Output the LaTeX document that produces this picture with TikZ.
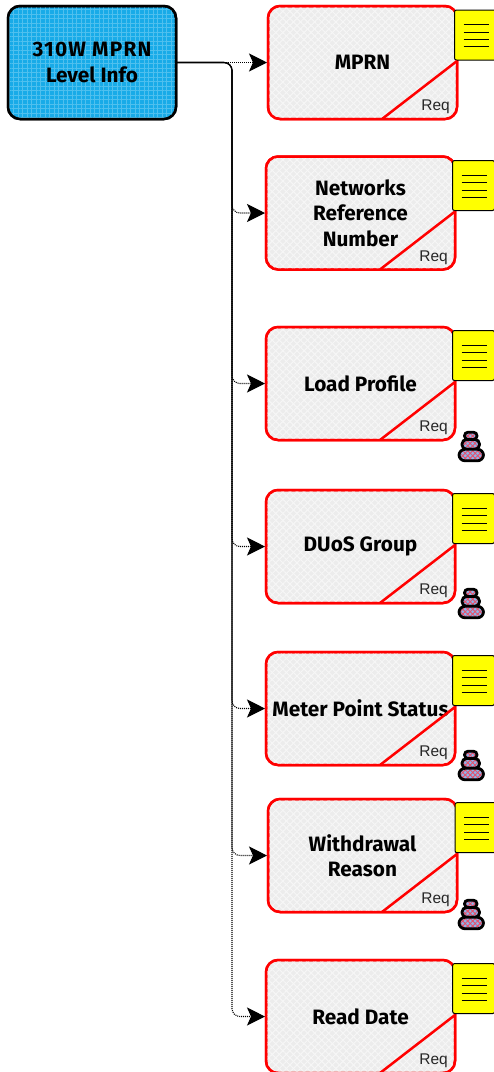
\documentclass[tikz,border=0pt]{standalone}
\usepackage{fontspec}
\setmainfont{Liberation Sans}
\newfontfamily\labelfont{Fira Sans}
\usetikzlibrary{arrows.meta,calc,patterns.meta}
\definecolor{blueface}{HTML}{18ABE8}
\definecolor{bluegrid}{HTML}{4FC0EE}
\definecolor{greyface}{HTML}{ECECEC}
\definecolor{greygrid}{HTML}{F6F6F6}
\definecolor{pillface}{HTML}{8FB4EA}
\definecolor{pillred}{HTML}{E8506A}
\definecolor{noteyellow}{HTML}{FFFF00}
\tikzset{
  x=1pt,y=-1pt,
  labeltext/.style={font=\labelfont\fontsize{20.8}{25.5}\selectfont\bfseries},
  bluebox/.style={draw=black,line width=2.5pt,rounded corners=12pt,outer sep=0pt,inner sep=0pt,
    minimum width=168pt,minimum height=113pt,align=center,labeltext,
    preaction={fill=blueface},
    postaction={pattern={Lines[angle=0,distance=4.5pt,line width=1pt]},pattern color=bluegrid},
    postaction={pattern={Lines[angle=90,distance=4.5pt,line width=1pt]},pattern color=bluegrid},
    postaction={draw=black,line width=2.5pt}},
  reqbox/.style={draw=red,line width=2.5pt,rounded corners=12pt,outer sep=0pt,inner sep=0pt,
    minimum width=189pt,minimum height=113pt,align=center,labeltext,
    preaction={fill=greyface},
    postaction={pattern={Lines[angle=45,distance=5pt,line width=1pt]},pattern color=greygrid},
    postaction={pattern={Lines[angle=-45,distance=5pt,line width=1pt]},pattern color=greygrid},
    postaction={draw=red,line width=2.5pt}},
  notebox/.style={draw=black,line width=1pt,fill=noteyellow,rounded corners=2pt,outer sep=0pt,inner sep=0pt,
    minimum width=42pt,minimum height=50pt,anchor=north west},
  noteline/.style={draw=black,line width=1pt},
  diag/.style={draw=red,line width=2.5pt},
  reqtext/.style={font=\fontsize{15.5}{18}\selectfont,text=black!85,inner sep=0pt,anchor=base east},
  link/.style={draw=black,line width=1.1pt,rounded corners=8pt,-{Stealth[length=18pt,width=18pt,inset=4pt]},shorten >=1pt},
  pill/.style={fill=pillface,
    postaction={pattern={Lines[angle=45,distance=3.5pt,line width=.9pt]},pattern color=pillred},
    postaction={pattern={Lines[angle=-45,distance=3.5pt,line width=.9pt]},pattern color=pillred},
    postaction={draw=black,line width=2.8pt}}
}
\newcommand{\reqset}[2]{% box, note position
  \node[notebox] (n#1) at (#2) {};
  \draw[noteline] ($(n#1.north west)+(9,14.5)$) -- +(25,0);
  \draw[noteline] ($(n#1.north west)+(9,22)$) -- +(25,0);
  \draw[noteline] ($(n#1.north west)+(9,29.5)$) -- +(25,0);
  \draw[noteline] ($(n#1.north west)+(9,36.5)$) -- +(25,0);
  \draw[diag] ($(#1.south east)+(-75,0)$) -- ($(#1.south east)+(0,-58)$);
  \node[reqtext] (r#1) at ($(#1.south east)+(-7,-8.5)$) {Req};
}
\newcommand{\pilestack}[2]{%
  \begin{scope}[shift={(#1,#2)}]
    \path[pill,rounded corners=3.5pt] (7.5,1.2) rectangle (20,8.5);
    \path[pill,rounded corners=4.5pt] (5,8.5) rectangle (22.5,18.3);
    \path[pill,rounded corners=6pt] (2,18.3) rectangle (26.5,29.8);
  \end{scope}
}
\begin{document}
\begin{tikzpicture}
\useasboundingbox (0,0) rectangle (494,1072);
\clip (0,0) rectangle (494,1072);
\node[bluebox] (root) at (92,62.5) {{\addfontfeature{LetterSpace=6}310W MPRN}\\Level Info};
\node[reqbox] (b1) at (362.5,62.5) {MPRN};
\node[reqbox] (b2) at (360.5,213) {Networks\\Reference\\Number};
\node[reqbox] (b3) at (360.5,383.5) {Load Profile};
\node[reqbox] (b4) at (360.5,546.5) {DUoS Group};
\node[reqbox] (b5) at (360.5,708.5) {Meter Point Status};
\node[reqbox] (b6) at (362.5,855.5) {Withdrawal\\Reason};
\node[reqbox] (b7) at (360.5,1016.5) {Read Date};
\reqset{b1}{454.5,10}
\reqset{b2}{452.5,160.5}
\reqset{b3}{452.5,330.5}
\reqset{b4}{452.5,493.5}
\reqset{b5}{452.5,655.5}
\reqset{b6}{455,802.7}
\reqset{b7}{452.7,963.5}
\pilestack{457}{431}
\pilestack{457}{588}
\pilestack{457}{750}
\pilestack{457}{899}
\coordinate (trunk) at (232,62.5);
\draw[link,dash pattern=on 1pt off 1pt] (root.east) -- (b1.west);
\foreach \i/\ph in {2/.2,3/.5,4/.8,5/1.1,6/1.4,7/1.8}{
  \draw[link,dash pattern=on 1pt off 1pt,dash phase=\ph pt]
    (root.east) -- (trunk) -- (trunk |- b\i.west) -- (b\i.west);
}
\end{tikzpicture}
\end{document}
